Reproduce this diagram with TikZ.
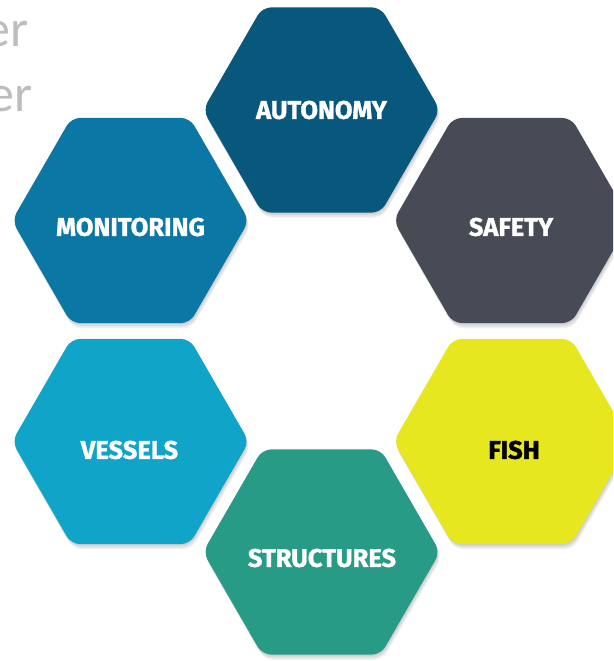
\documentclass[tikz,border=0pt]{standalone}
\usepackage{fontspec}
\setsansfont{Fira Sans}
\newfontfamily\labfont{Fira Sans}[BoldFeatures={FakeBold=1.3}]
\newfontfamily\grayfont{Carlito}
\definecolor{autoC}{HTML}{08587E}
\definecolor{monC}{HTML}{0A77A4}
\definecolor{safC}{HTML}{474B55}
\definecolor{vesC}{HTML}{10A4C9}
\definecolor{fisC}{HTML}{E6E71F}
\definecolor{strC}{HTML}{289B87}
\definecolor{erC}{HTML}{BDBDBD}
\newcommand\hexcell[2]{%
  \begin{scope}[shift={(#1)}]
    \foreach \k in {1,...,4}{%
      \fill[black,opacity=0.05,rounded corners=9pt,shift={(0.5*\k,1.3*\k)}]
        (0:\hexR) -- (60:\hexR) -- (120:\hexR) -- (180:\hexR) -- (240:\hexR) -- (300:\hexR) -- cycle;}
    \fill[#2,rounded corners=9pt]
      (0:\hexR) -- (60:\hexR) -- (120:\hexR) -- (180:\hexR) -- (240:\hexR) -- (300:\hexR) -- cycle;
  \end{scope}}
\begin{document}
\begin{tikzpicture}[x=1pt,y=-1pt,
  lab/.style={font=\labfont\bfseries\fontsize{25.5}{30}\selectfont,text=white,inner sep=0pt},
  ertext/.style={font=\grayfont\fontsize{52}{62}\selectfont,text=erC,inner sep=0pt,anchor=base east}]
\useasboundingbox (0,0) rectangle (613,661);
\clip (0,0) rectangle (613,661);
\def\hexR{118.5}
\coordinate (A) at (321.5,110);
\coordinate (M) at (130.5,220.5);
\coordinate (S) at (512,220.5);
\coordinate (V) at (130.5,441.5);
\coordinate (F) at (512,441.5);
\coordinate (T) at (321.5,552);
\node[ertext] (er1) at (29,47) {er};
\node[ertext] (er2) at (33,111) {er};
\hexcell{A}{autoC}
\hexcell{M}{monC}
\hexcell{S}{safC}
\hexcell{V}{vesC}
\hexcell{F}{fisC}
\hexcell{T}{strC}
\node[lab] (labA) at (321.5,110) {AUTONOMY};
\node[lab] (labM) at (130.5,227) {MONITORING};
\node[lab] (labS) at (511,227) {SAFETY};
\node[lab] (labV) at (129.5,450) {VESSELS};
\node[lab,text=black] (labF) at (514,450) {FISH};
\node[lab] (labT) at (322,558) {STRUCTURES};
\end{tikzpicture}
\end{document}
